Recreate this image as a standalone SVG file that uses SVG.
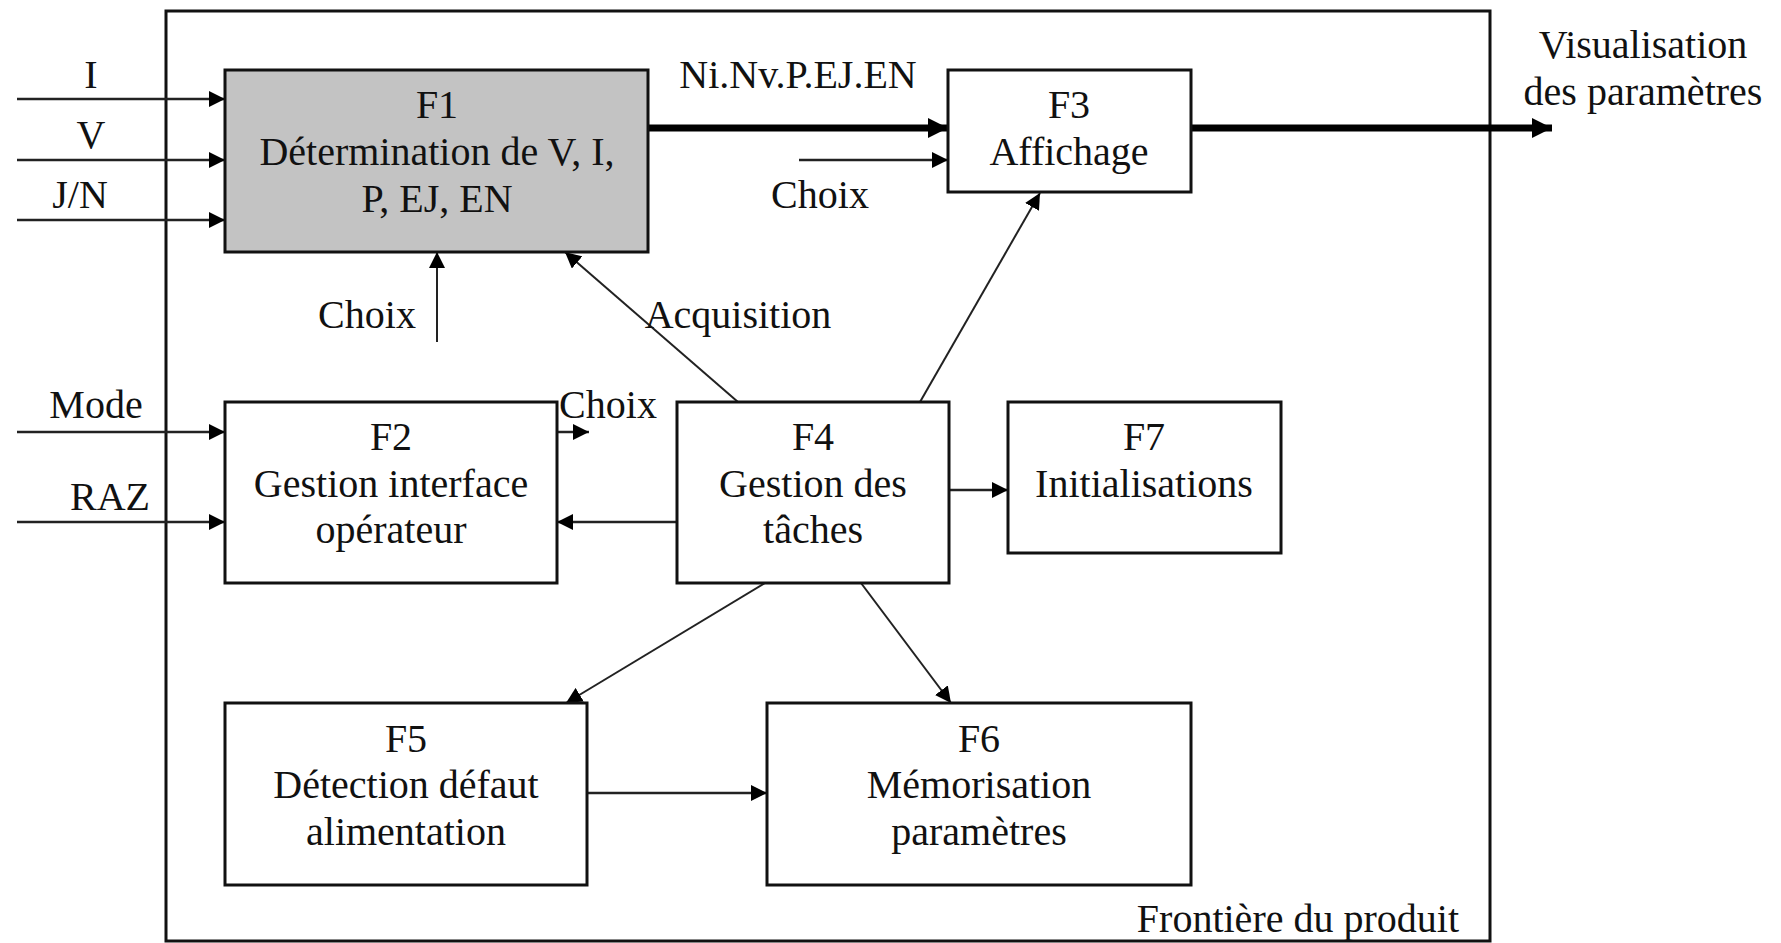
<svg xmlns="http://www.w3.org/2000/svg" width="1781" height="943" viewBox="0 0 1781 943">
<style>
text{font-family:"Liberation Serif","Times New Roman",serif;font-size:40px;fill:#111;}
.c{text-anchor:middle;}
.box{fill:#fff;stroke:#111;stroke-width:3;}
.gray{fill:#c3c3c3;}
.ln{stroke:#222;stroke-width:2.5;fill:none;}
.thin{stroke:#222;stroke-width:2;fill:none;}
.thick{stroke:#000;stroke-width:7;fill:none;}
</style>
<defs>
<marker id="a" markerUnits="userSpaceOnUse" markerWidth="16" markerHeight="16" refX="16" refY="8" orient="auto"><path d="M0,0 L16,8 L0,16 z" fill="#000"/></marker>
<marker id="ab" markerUnits="userSpaceOnUse" markerWidth="20" markerHeight="20" refX="20" refY="10" orient="auto"><path d="M0,0 L20,10 L0,20 z" fill="#000"/></marker>
</defs>
<rect width="1781" height="943" fill="#fff"/>
<g id="frontiere">
<rect x="166" y="11" width="1324" height="930" fill="none" stroke="#111" stroke-width="3"/>
<text x="1459" y="932" text-anchor="end">Frontière du produit</text>
</g>
<g id="connectors">
<line class="ln" x1="17" y1="99" x2="225" y2="99" marker-end="url(#a)"/>
<line class="ln" x1="17" y1="160" x2="225" y2="160" marker-end="url(#a)"/>
<line class="ln" x1="17" y1="220" x2="225" y2="220" marker-end="url(#a)"/>
<line class="ln" x1="17" y1="432" x2="225" y2="432" marker-end="url(#a)"/>
<line class="ln" x1="17" y1="522" x2="225" y2="522" marker-end="url(#a)"/>
<line class="thick" x1="648" y1="128" x2="948" y2="128" marker-end="url(#ab)"/>
<line class="thick" x1="1191" y1="128" x2="1552" y2="128" marker-end="url(#ab)"/>
<line class="ln" x1="799" y1="160" x2="948" y2="160" marker-end="url(#a)"/>
<line class="thin" x1="437" y1="342" x2="437" y2="252" marker-end="url(#a)"/>
<line class="thin" x1="738" y1="402" x2="565" y2="252" marker-end="url(#a)"/>
<line class="thin" x1="920" y1="402" x2="1040" y2="193" marker-end="url(#a)"/>
<line class="ln" x1="557" y1="432" x2="589" y2="432" marker-end="url(#a)"/>
<line class="ln" x1="677" y1="522" x2="557" y2="522" marker-end="url(#a)"/>
<line class="ln" x1="949" y1="490" x2="1008" y2="490" marker-end="url(#a)"/>
<line class="thin" x1="765" y1="583" x2="566" y2="703" marker-end="url(#a)"/>
<line class="thin" x1="861" y1="583" x2="951" y2="703" marker-end="url(#a)"/>
<line class="ln" x1="587" y1="793" x2="767" y2="793" marker-end="url(#a)"/>
<text class="c" x="91" y="88">I</text>
<text class="c" x="91" y="148">V</text>
<text class="c" x="80" y="208">J/N</text>
<text class="c" x="96" y="418">Mode</text>
<text class="c" x="110" y="510">RAZ</text>
<text class="c" x="367" y="328">Choix</text>
<text class="c" x="738" y="328">Acquisition</text>
<text class="c" x="608" y="418">Choix</text>
<text class="c" x="820" y="208">Choix</text>
<text class="c" x="798" y="88">Ni.Nv.P.EJ.EN</text>
<text class="c" x="1643" y="58">Visualisation</text>
<text class="c" x="1643" y="105">des paramètres</text>
</g>
<g id="F1">
<rect class="box gray" x="225" y="70" width="423" height="182"/>
<text class="c" x="437" y="118">F1</text>
<text class="c" x="437" y="165">Détermination de V, I,</text>
<text class="c" x="437" y="212">P, EJ, EN</text>
</g>
<g id="F2">
<rect class="box" x="225" y="402" width="332" height="181"/>
<text class="c" x="391" y="450">F2</text>
<text class="c" x="391" y="497">Gestion interface</text>
<text class="c" x="391" y="543">opérateur</text>
</g>
<g id="F3">
<rect class="box" x="948" y="70" width="243" height="122"/>
<text class="c" x="1069" y="118">F3</text>
<text class="c" x="1069" y="165">Affichage</text>
</g>
<g id="F4">
<rect class="box" x="677" y="402" width="272" height="181"/>
<text class="c" x="813" y="450">F4</text>
<text class="c" x="813" y="497">Gestion des</text>
<text class="c" x="813" y="543">tâches</text>
</g>
<g id="F7">
<rect class="box" x="1008" y="402" width="273" height="151"/>
<text class="c" x="1144" y="450">F7</text>
<text class="c" x="1144" y="497">Initialisations</text>
</g>
<g id="F5">
<rect class="box" x="225" y="703" width="362" height="182"/>
<text class="c" x="406" y="752">F5</text>
<text class="c" x="406" y="798">Détection défaut</text>
<text class="c" x="406" y="845">alimentation</text>
</g>
<g id="F6">
<rect class="box" x="767" y="703" width="424" height="182"/>
<text class="c" x="979" y="752">F6</text>
<text class="c" x="979" y="798">Mémorisation</text>
<text class="c" x="979" y="845">paramètres</text>
</g>
</svg>
